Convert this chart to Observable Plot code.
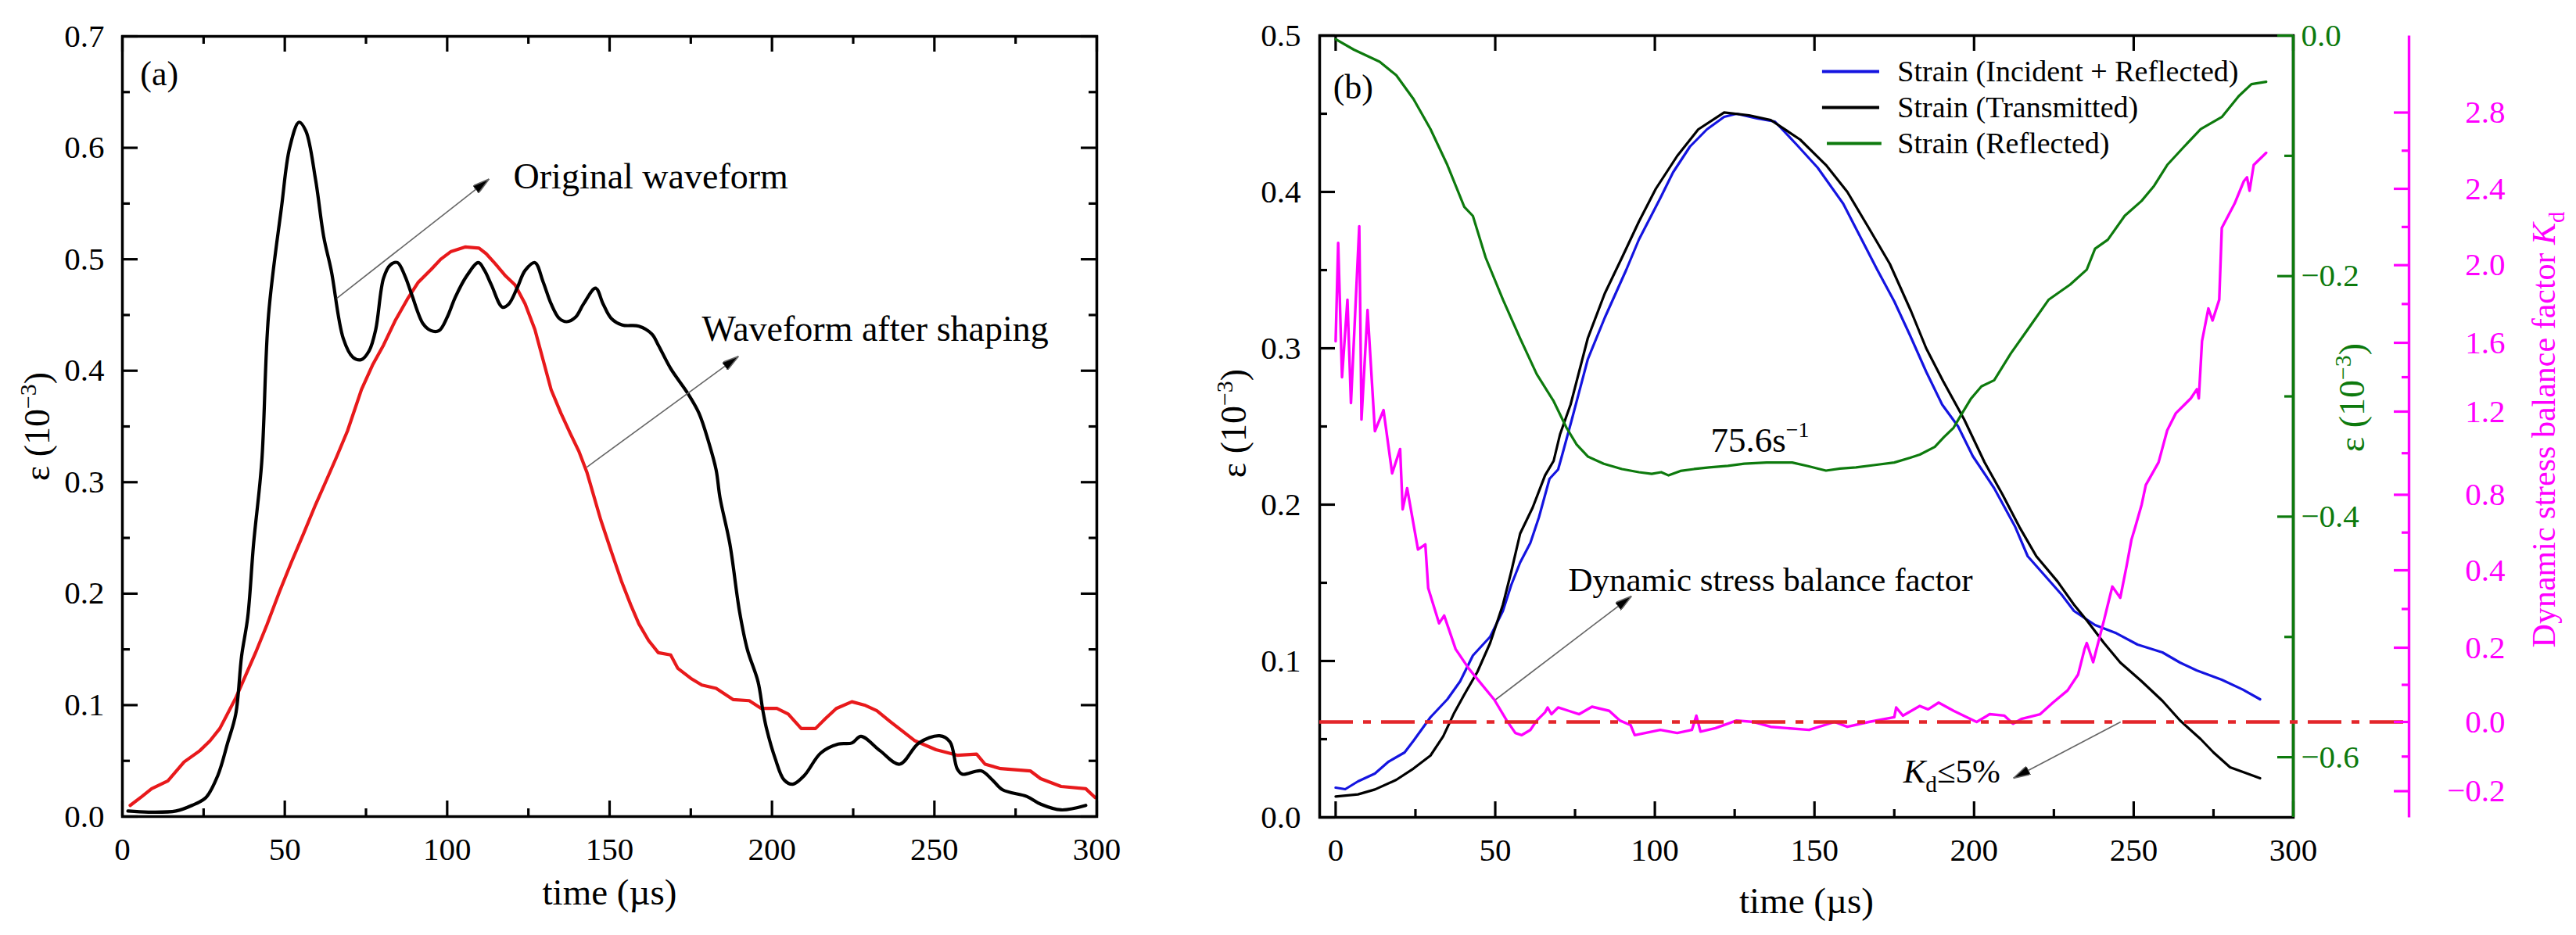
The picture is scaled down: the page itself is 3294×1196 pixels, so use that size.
<!DOCTYPE html>
<html>
<head>
<meta charset="utf-8">
<script src="https://cdn.jsdelivr.net/npm/d3@7"></script>
<script src="https://cdn.jsdelivr.net/npm/@observablehq/plot@0.6"></script>
<style>
  html, body { margin: 0; padding: 0; background: #fff; }
  #chart { position: relative; width: 3294px; height: 1196px; overflow: hidden; background: #fff; }
  #chart svg { position: absolute; left: 0; top: 0; }
</style>
</head>
<body>
<div id="chart"></div>
<script>
// ================= DATA =================
// Panel (a): time (µs), strain (10^-3)
const originalWaveform = [
  [1.7,0.005],[8,0.004],[16.5,0.005],[21.4,0.01],[25.7,0.017],[29.4,0.037],[32.4,0.066],[34.9,0.092],
  [36.7,0.144],[38.6,0.179],[40.4,0.245],[42.9,0.318],[45,0.45],[49,0.547],[51.5,0.6],[54.4,0.623],
  [56.5,0.615],[59.5,0.571],[62,0.52],[64.3,0.49],[68,0.429],[71,0.412],[73.6,0.41],[76,0.418],
  [78,0.437],[80.4,0.483],[82.5,0.495],[84.7,0.497],[87,0.485],[89,0.469],[92.6,0.442],[95,0.436],
  [97.5,0.436],[100,0.448],[102.5,0.466],[106,0.485],[109.6,0.497],[111.5,0.49],[113.6,0.477],[117,0.457],
  [119,0.46],[121.5,0.474],[124,0.49],[127,0.497],[129.5,0.48],[132,0.46],[134.5,0.447],[136.8,0.444],
  [139.5,0.448],[142,0.46],[145.7,0.474],[148,0.46],[150.5,0.447],[153.9,0.441],[159,0.44],[163,0.433],
  [165,0.423],[168.8,0.402],[174,0.38],[177.5,0.362],[180.6,0.335],[182.8,0.311],[184,0.286],[187,0.245],
  [190,0.184],[192.4,0.15],[195.7,0.121],[197.2,0.095],[198.4,0.078],[201,0.052],[203.7,0.033],[206.4,0.029],
  [210,0.037],[215,0.057],[220.4,0.065],[224.6,0.066],[227.4,0.072],[233.3,0.059],[239.3,0.047],[245.2,0.066],
  [251.6,0.0725],[254.8,0.067],[257,0.043],[258.6,0.038],[264.4,0.041],[267.8,0.033],[271,0.024],[278.5,0.018],
  [282.8,0.011],[289,0.006],[296.6,0.01]
];
const shapedWaveform = [
  [2.4,0.01],[6,0.018],[9,0.025],[14,0.032],[19,0.049],[23.8,0.059],[27,0.068],[30,0.079],[35,0.107],
  [41,0.147],[44.5,0.172],[48.4,0.202],[52,0.228],[55.8,0.254],[59.5,0.28],[63,0.303],[66,0.323],[69.3,0.346],
  [73.6,0.383],[77,0.405],[80.4,0.423],[84,0.445],[87.7,0.464],[91,0.479],[95.1,0.491],[98,0.5],[101.2,0.507],
  [105.5,0.511],[109.8,0.51],[112,0.505],[114.8,0.496],[118,0.485],[120.9,0.477],[124,0.46],[127,0.437],
  [129.5,0.41],[132,0.383],[135,0.362],[138,0.343],[140.5,0.328],[143,0.309],[147.3,0.266],[150.5,0.238],
  [153.8,0.21],[156.5,0.19],[159,0.173],[162,0.158],[165,0.147],[168.8,0.145],[171,0.133],[175,0.124],
  [178.4,0.118],[182.8,0.115],[188,0.105],[193,0.104],[196.7,0.097],[201.5,0.097],[205,0.092],[209,0.079],
  [213.4,0.079],[216.5,0.088],[219.8,0.097],[224.6,0.103],[228.5,0.1],[232.3,0.095],[236.5,0.085],[240,0.077],
  [244,0.068],[250.5,0.06],[257,0.055],[263,0.056],[265.6,0.047],[270.4,0.043],[279.5,0.041],[282.7,0.034],
  [289,0.027],[296.6,0.025],[299.5,0.017]
];

// Panel (b): time (µs); left axis strain (10^-3)
const strainIncRef = [
  [0,0.019],[3,0.018],[7,0.023],[12.3,0.028],[16.5,0.0355],[21.6,0.0415],[24.4,0.049],[29.7,0.064],[35,0.0755],
  [39,0.087],[43,0.1035],[48.4,0.1155],[52.4,0.132],[55,0.1485],[57.8,0.163],[61,0.1755],[63.7,0.192],[67,0.2165],
  [69.7,0.2225],[71,0.232],[74,0.2545],[79,0.293],[84.3,0.3195],[91,0.35],[95,0.3695],[101.7,0.396],[105.7,0.4125],
  [111,0.429],[116.3,0.44],[121.7,0.448],[125.6,0.45],[132,0.447],[137.6,0.445],[144.3,0.4305],[151,0.4155],
  [159,0.3925],[164.3,0.3715],[169.6,0.3505],[175,0.33],[180,0.308],[185,0.285],[190,0.264],[195,0.25],
  [199.6,0.231],[206.3,0.2105],[212.9,0.1857],[216.8,0.167],[222,0.155],[227.4,0.1425],[231.3,0.132],
  [237.9,0.123],[244.6,0.1177],[251.2,0.1105],[259,0.1055],[264.5,0.099],[269.7,0.094],[277.6,0.088],
  [284.2,0.0817],[289.6,0.0755]
];
const strainTransmitted = [
  [0,0.0133],[7,0.0147],[12.3,0.0178],[19,0.024],[24.4,0.0312],[29.7,0.0395],[33.7,0.0518],[37,0.0662],
  [40.3,0.0785],[44.4,0.093],[48.4,0.1115],[52.4,0.136],[55,0.157],[57.8,0.1815],[61.7,0.198],[65.6,0.2187],
  [68.3,0.228],[70.3,0.245],[73.6,0.264],[79,0.3065],[84.3,0.335],[89.7,0.358],[95,0.381],[100.3,0.402],
  [107,0.423],[113.6,0.44],[121.7,0.4508],[129.5,0.449],[136.3,0.446],[145.5,0.4335],[153.6,0.4172],[160.3,0.4],
  [167,0.377],[173.6,0.354],[180.3,0.3235],[185,0.3],[190.3,0.279],[196.9,0.2545],[203.3,0.227],[208.9,0.2065],
  [214.2,0.1857],[219.5,0.167],[226.2,0.1507],[231.3,0.136],[235.3,0.126],[240.7,0.1115],[245.8,0.099],
  [252.5,0.087],[259,0.0745],[264.5,0.062],[271,0.05],[275,0.0415],[280.2,0.032],[285.6,0.028],[289.6,0.025]
];
// right (green) axis strain (10^-3)
const strainReflected = [
  [0,-0.003],[5.7,-0.0117],[13.8,-0.0218],[19,-0.033],[24.4,-0.0528],[29.7,-0.0777],[35,-0.1076],[40.3,-0.1424],
  [43,-0.15],[47,-0.1846],[52.4,-0.2195],[57.8,-0.2518],[63,-0.2815],[68.3,-0.304],[72.3,-0.326],[75.5,-0.34],
  [79,-0.35],[84,-0.356],[89.7,-0.3604],[95,-0.363],[99,-0.3644],[102,-0.363],[104.3,-0.3657],[108,-0.362],
  [112.3,-0.3604],[117,-0.359],[122.9,-0.3577],[128,-0.356],[135,-0.355],[143,-0.355],[148,-0.358],[153.6,-0.3617],
  [158,-0.36],[163,-0.359],[169,-0.357],[175,-0.355],[180,-0.351],[183,-0.3484],[187.7,-0.342],[190.5,-0.334],
  [193.6,-0.326],[195.7,-0.3165],[199,-0.302],[202.3,-0.2917],[206.3,-0.2866],[211.5,-0.2643],[216.8,-0.2444],
  [223.4,-0.2195],[230.1,-0.207],[235.3,-0.1946],[237.9,-0.1772],[241.9,-0.1697],[247.2,-0.1498],[252.5,-0.1374],
  [256.4,-0.1249],[260.5,-0.1076],[265.7,-0.0926],[271,-0.0777],[277.6,-0.0677],[282.9,-0.0504],[286.9,-0.0404],
  [291.5,-0.0384]
];
// magenta axis: dynamic stress balance factor Kd
const balanceFactor = [
  [0,1.608],[0.8,2.117],[2,1.4],[3.7,1.822],[4.8,1.25],[7.4,2.204],[8.1,1.162],[10,1.769],[12.3,1.106],[15,1.209],
  [17.7,0.903],[20.2,1.02],[21,0.723],[22.4,0.832],[25.8,0.51],[28.1,0.537],[29,0.354],[32.4,0.263],[34,0.283],
  [37.6,0.196],[41.7,0.144],[45.7,0.102],[49.7,0.06],[53.6,0.004],[56.3,-0.032],[58.3,-0.038],[61,-0.023],[63,0.004],
  [65.6,0.026],[66.4,0.039],[67.6,0.021],[69.7,0.039],[73,0.03],[76.3,0.021],[80.3,0.041],[85.7,0.03],[89,0.004],
  [92.4,-0.009],[93.7,-0.038],[101.7,-0.023],[107,-0.032],[111.6,-0.023],[113,0.017],[114.3,-0.028],[119,-0.018],
  [125.6,0.004],[131,0],[136.3,-0.014],[148.3,-0.023],[156.3,0],[160.3,-0.014],[167,0],[175,0.013],[175.6,0.039],
  [177.7,0.017],[183,0.043],[185.6,0.034],[188.9,0.052],[193.6,0.03],[200.8,0],[204.9,0.021],[209.5,0.017],
  [212.2,-0.005],[214.8,0.008],[220.7,0.021],[224.7,0.052],[229.3,0.085],[232.6,0.128],[234.6,0.196],[235.3,0.212],
  [237.3,0.161],[240.7,0.271],[243.3,0.358],[245.8,0.329],[247.8,0.425],[249.3,0.562],[250.5,0.63],[252.5,0.748],
  [253.8,0.847],[257.8,0.956],[260.5,1.11],[263.2,1.192],[267.9,1.277],[269.8,1.33],[270.4,1.277],[271.4,1.608],
  [273.4,1.777],[274.7,1.715],[276.8,1.822],[277.6,2.195],[281.6,2.322],[284.5,2.44],[285.5,2.46],[286.3,2.39],
  [287.6,2.525],[291.5,2.589]
];
const kdThreshold = [0];

// ---- ticks ----
const xTicksA = [0, 50, 100, 150, 200, 250, 300];
const xMinorA = [25, 75, 125, 175, 225, 275];
const yTicksA = [0, 0.1, 0.2, 0.3, 0.4, 0.5, 0.6, 0.7];
const yMinorA = [0.05, 0.15, 0.25, 0.35, 0.45, 0.55, 0.65];
const xTicksB = [0, 50, 100, 150, 200, 250, 300];
const xMinorB = [25, 75, 125, 175, 225, 275];
const yTicksB = [0, 0.1, 0.2, 0.3, 0.4, 0.5];
const yMinorB = [0.05, 0.15, 0.25, 0.35, 0.45];
const greenTicks = [0, -0.2, -0.4, -0.6];
const greenMinor = [-0.1, -0.3, -0.5];
const kdTicks = [-0.2, 0, 0.2, 0.4, 0.8, 1.2, 1.6, 2.0, 2.4, 2.8];

// ================= LAYOUT / STYLE =================
const W = 3294, H = 1196;
const FONT = "'Liberation Serif','Times New Roman','DejaVu Serif',serif";
const RED = "#e8191b", BLUE = "#1414e0", GREEN = "#0d7a0d", MAG = "#ff00ff", DASHRED = "#e3262a";
const A = {left: 156, right: 1402, top: 46, bottom: 1044};
const B = {left: 1687, right: 2932, top: 45, bottom: 1045};
const KD_AXIS = 3080;                       // pixel x of the magenta axis line
// the magenta axis in the source is labelled unevenly; its scale follows those label positions
const kdTickPx = [1011.5, 923, 828, 729, 632.4, 526, 438, 338.7, 241, 143.5];
const fwA = A.right - A.left, fhA = A.bottom - A.top;
const fwB = B.right - B.left, fhB = B.bottom - B.top;
const fwK = KD_AXIS - B.left;
const MAJ = 20, MIN = 10, SW = 3.2;
const fmt1 = d3.format(".1f");
const rows = arr => arr.map(([t, v]) => ({t, v}));

const svgStyle = {background: "transparent", fontFamily: FONT, fontSize: "41px", overflow: "visible", maxWidth: "none"};
const centered = {textAnchor: "middle", lineAnchor: "middle"};

function ticksY(values, len, side, fw, color) {
  const o = {y: d => d, stroke: color, strokeWidth: SW};
  o[side === "left" ? "insetRight" : "insetLeft"] = fw - len;
  return Plot.tickY(values, o);
}
function ticksX(values, len, side, fh, color) {
  const o = {x: d => d, stroke: color, strokeWidth: SW};
  o[side === "bottom" ? "insetTop" : "insetBottom"] = fh - len;
  return Plot.tickX(values, o);
}

function filledArrow(color, context) {
  const m = d3.create("svg:marker")
    .attr("viewBox", "-22 -6 22 12")
    .attr("markerUnits", "userSpaceOnUse")
    .attr("markerWidth", 22).attr("markerHeight", 12)
    .attr("refX", 0).attr("refY", 0)
    .attr("orient", "auto");
  m.append("path").attr("d", "M-22,-6L0,0L-22,6Z").attr("fill", "#000");
  return m.node();
}
let arrowMarker = filledArrow;
try {
  Plot.plot({width: 60, height: 60, marks: [Plot.link([0], {x1: 0, y1: 0, x2: 1, y2: 1, markerEnd: filledArrow})]});
} catch (e) { arrowMarker = "arrow"; }

function richText(svg, key, parts, fs) {
  d3.select(svg).selectAll("text").filter(function () { return this.textContent === key; }).each(function () {
    const el = d3.select(this);
    el.text(null);
    let cur = 0;
    parts.forEach((p, i) => {
      const ts = el.append("tspan").text(p.t);
      const shift = (p.shift || 0) * fs;
      if (p.italic) ts.attr("font-style", "italic");
      if (p.scale) ts.attr("font-size", fs * p.scale);
      if (i > 0 && shift !== cur) ts.attr("dy", shift - cur);
      cur = shift;
    });
  });
}
const epsParts = [{t: "ε (10"}, {t: "−3", shift: -0.38, scale: 0.65}, {t: ")"}];

const chart = document.getElementById("chart");

// ================= PANEL (a) =================
const annA = {
  label: {x: 5.5, y: 0.666, text: "(a)"},
  texts: [
    {x: 120.4, y: 0.574, text: "Original waveform"},
    {x: 178.4, y: 0.437, text: "Waveform after shaping"}
  ],
  arrows: [
    {x1: 66, y1: 0.465, x2: 112.9, y2: 0.572},
    {x1: 143, y1: 0.3135, x2: 189.7, y2: 0.413}
  ]
};

const svgA = Plot.plot({
  width: W, height: H,
  marginLeft: A.left, marginRight: W - A.right, marginTop: A.top, marginBottom: H - A.bottom,
  x: {domain: [0, 300], axis: null},
  y: {domain: [0, 0.7], axis: null},
  style: svgStyle,
  marks: [
    Plot.line(rows(shapedWaveform), {x: "t", y: "v", stroke: RED, strokeWidth: 4.2, strokeLinejoin: "round"}),
    Plot.line(rows(originalWaveform), {x: "t", y: "v", stroke: "#000", strokeWidth: 4.2, curve: "catmull-rom"}),
    ticksY(yTicksA, MAJ, "left", fwA, "#000"), ticksY(yMinorA, MIN, "left", fwA, "#000"),
    ticksY(yTicksA, MAJ, "right", fwA, "#000"), ticksY(yMinorA, MIN, "right", fwA, "#000"),
    ticksX(xTicksA, MAJ, "bottom", fhA, "#000"), ticksX(xMinorA, MIN, "bottom", fhA, "#000"),
    ticksX(xTicksA, MAJ, "top", fhA, "#000"), ticksX(xMinorA, MIN, "top", fhA, "#000"),
    Plot.frame({stroke: "#000", strokeWidth: 3.5}),
    Plot.axisX({ticks: xTicksA, tickSize: 0, tickPadding: 26, fontSize: 41, label: null}),
    Plot.axisY({ticks: yTicksA, tickSize: 0, tickPadding: 23, tickFormat: fmt1, fontSize: 41, label: null}),
    Plot.link(annA.arrows, {x1: "x1", y1: "y1", x2: "x2", y2: "y2", stroke: "#666", strokeWidth: 1.6, markerEnd: arrowMarker}),
    Plot.text(annA.texts, {x: "x", y: "y", text: "text", textAnchor: "start", fontSize: 46}),
    Plot.text([annA.label], {x: "x", y: "y", text: "text", textAnchor: "start", fontSize: 44}),
    Plot.text(["time (µs)"], {text: d => d, frameAnchor: "bottom", dy: 97, fontSize: 47, ...centered}),
    Plot.text(["ε (10-3)"], {text: d => d, frameAnchor: "left", dx: -108, rotate: -90, fontSize: 46, ...centered})
  ]
});
richText(svgA, "ε (10-3)", epsParts, 46);
chart.appendChild(svgA);

// ================= PANEL (b) =================
const xDomainB = [-5, 300];
const marginsB = {marginLeft: B.left, marginRight: W - B.right, marginTop: B.top, marginBottom: H - B.bottom};
const legendB = [
  {label: "Strain (Incident + Reflected)", color: BLUE, y: 0.477, x1: 152.5, x2: 170.4},
  {label: "Strain (Transmitted)", color: "#000", y: 0.454, x1: 152.5, x2: 170.4},
  {label: "Strain (Reflected)", color: GREEN, y: 0.431, x1: 154, x2: 171.1}
];
const legendTextX = 176;
const annB = {
  label: {x: -0.8, y: 0.467, text: "(b)"},
  dsbf: {x: 72.9, y: 0.1517, text: "Dynamic stress balance factor"},
  rate: {x: 117.5, y: 0.241, text: "75.6s-1"},
  kd: {x: 177.8, y: 0.029, text: "Kd≤5%"},
  arrows: [
    {x1: 49.6, y1: 0.0745, x2: 92.7, y2: 0.1415},
    {x1: 245.9, y1: 0.061, x2: 212.3, y2: 0.025}
  ]
};

const svgB = Plot.plot({
  width: W, height: H, ...marginsB,
  x: {domain: xDomainB, axis: null},
  y: {domain: [0, 0.5], axis: null},
  style: svgStyle,
  marks: [
    ticksY(yTicksB, MAJ, "left", fwB, "#000"), ticksY(yMinorB, MIN, "left", fwB, "#000"),
    ticksX(xTicksB, MAJ, "bottom", fhB, "#000"), ticksX(xMinorB, MIN, "bottom", fhB, "#000"),
    ticksX(xTicksB, MAJ, "top", fhB, "#000"),
    Plot.frame({stroke: "#000", strokeWidth: 3.5}),
    Plot.axisX({ticks: xTicksB, tickSize: 0, tickPadding: 26, fontSize: 41, label: null}),
    Plot.axisY({ticks: yTicksB, tickSize: 0, tickPadding: 24, tickFormat: fmt1, fontSize: 41, label: null}),
    Plot.line(rows(strainIncRef), {x: "t", y: "v", stroke: BLUE, strokeWidth: 3.2}),
    Plot.line(rows(strainTransmitted), {x: "t", y: "v", stroke: "#000", strokeWidth: 3.2}),
    ...legendB.map(d => Plot.ruleY([d], {y: "y", x1: "x1", x2: "x2", stroke: d.color, strokeWidth: 4})),
    Plot.text(legendB, {x: legendTextX, y: "y", text: "label", textAnchor: "start", fontSize: 38}),
    Plot.link(annB.arrows, {x1: "x1", y1: "y1", x2: "x2", y2: "y2", stroke: "#666", strokeWidth: 1.6, markerEnd: arrowMarker}),
    Plot.text([annB.label], {x: "x", y: "y", text: "text", textAnchor: "start", fontSize: 44}),
    Plot.text([annB.dsbf], {x: "x", y: "y", text: "text", textAnchor: "start", fontSize: 43}),
    Plot.text([annB.rate], {x: "x", y: "y", text: "text", textAnchor: "start", fontSize: 45}),
    Plot.text([annB.kd], {x: "x", y: "y", text: "text", textAnchor: "start", fontSize: 43}),
    Plot.text(["time (µs)"], {text: d => d, frameAnchor: "bottom", dy: 107, fontSize: 47, ...centered}),
    Plot.text(["ε (10-3)"], {text: d => d, frameAnchor: "left", dx: -109, dy: -4, rotate: -90, fontSize: 46, ...centered})
  ]
});
richText(svgB, "ε (10-3)", epsParts, 46);
richText(svgB, "75.6s-1", [{t: "75.6s"}, {t: "−1", shift: -0.42, scale: 0.62}], 45);
richText(svgB, "Kd≤5%", [{t: "K", italic: true}, {t: "d", shift: 0.28, scale: 0.68}, {t: "≤5%"}], 43);
chart.appendChild(svgB);

// green (reflected) axis overlay
const svgG = Plot.plot({
  width: W, height: H, ...marginsB,
  x: {domain: xDomainB, axis: null},
  y: {domain: [-0.65, 0], axis: null},
  style: svgStyle,
  marks: [
    Plot.line(rows(strainReflected), {x: "t", y: "v", stroke: GREEN, strokeWidth: 3.2}),
    Plot.ruleX([xDomainB[1]], {stroke: GREEN, strokeWidth: 3.5}),
    ticksY(greenTicks, MAJ, "right", fwB, GREEN), ticksY(greenMinor, 11, "right", fwB, GREEN),
    Plot.axisY({anchor: "right", ticks: greenTicks, tickSize: 0, tickPadding: 10, tickFormat: fmt1, color: GREEN, fontSize: 41, label: null}),
    Plot.text(["ε (10-3)"], {text: d => d, frameAnchor: "right", dx: 76, dy: -37, rotate: -90, fill: GREEN, fontSize: 46, ...centered})
  ]
});
richText(svgG, "ε (10-3)", epsParts, 46);
chart.appendChild(svgG);

// magenta (Kd) axis overlay
const kdMinor = d3.pairs(kdTicks, (a, b) => (a + b) / 2);
const kdTitleKey = "Dynamic stress balance factor Kd";
const svgK = Plot.plot({
  width: W, height: H,
  marginLeft: B.left, marginRight: W - KD_AXIS, marginTop: B.top, marginBottom: H - B.bottom,
  x: {domain: xDomainB, range: [B.left, B.right], axis: null},
  y: {type: "linear", domain: kdTicks, range: kdTickPx, axis: null},
  style: svgStyle,
  marks: [
    Plot.line(rows(balanceFactor), {x: "t", y: "v", stroke: MAG, strokeWidth: 3.4}),
    Plot.ruleY(kdThreshold, {stroke: DASHRED, strokeWidth: 4.5, strokeDasharray: "43,13,10,13"}),
    Plot.frame({fill: MAG, stroke: null, insetLeft: fwK - 1.7, insetRight: -1.7}),
    ticksY(kdTicks, 19, "right", fwK, MAG), ticksY(kdMinor, 9, "right", fwK, MAG),
    Plot.axisY({anchor: "right", ticks: kdTicks, tickSize: 0, tickPadding: 123, textAnchor: "end", tickFormat: fmt1, color: MAG, fontSize: 41, label: null}),
    Plot.text([kdTitleKey], {text: d => d, frameAnchor: "right", dx: 173, dy: 4, rotate: -90, fill: MAG, fontSize: 42, ...centered})
  ]
});
richText(svgK, kdTitleKey, [{t: "Dynamic stress balance factor "}, {t: "K", italic: true}, {t: "d", shift: 0.28, scale: 0.68}], 42);
chart.appendChild(svgK);
</script>
</body>
</html>
